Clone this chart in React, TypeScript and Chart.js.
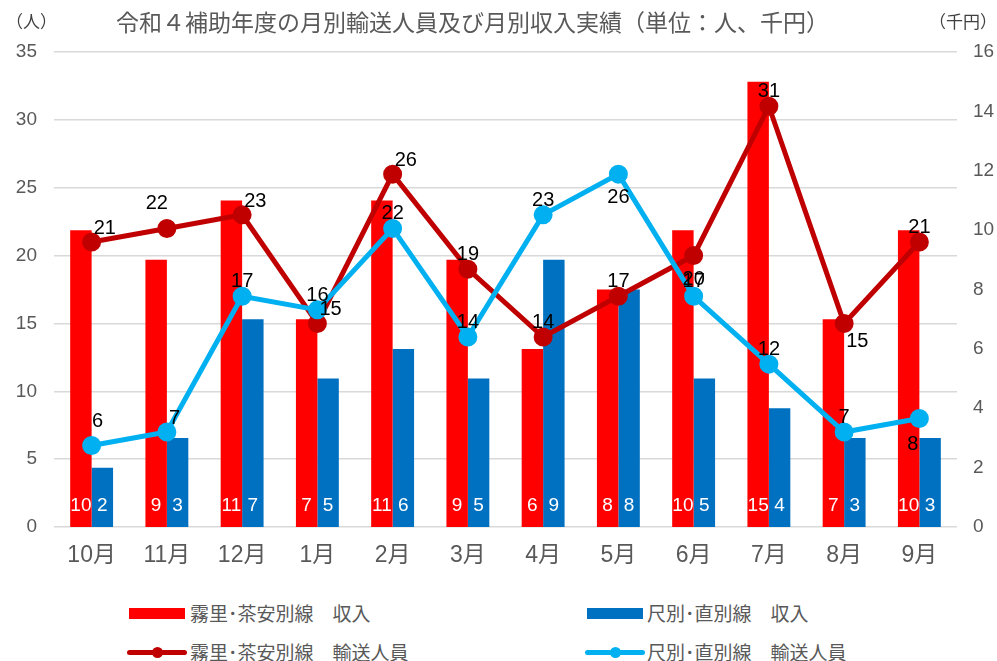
import React, { useEffect, useRef } from "react";
import { Chart, registerables } from "chart.js";

Chart.register(...registerables);

const months = ["10月", "11月", "12月", "1月", "2月", "3月", "4月", "5月", "6月", "7月", "8月", "9月"];
const kiriRevenue = [10, 9, 11, 7, 11, 9, 6, 8, 10, 15, 7, 10];
const shakuRevenue = [2, 3, 7, 5, 6, 5, 9, 8, 5, 4, 3, 3];
const kiriPassengers = [21, 22, 23, 15, 26, 19, 14, 17, 20, 31, 15, 21];
const shakuPassengers = [6, 7, 17, 16, 22, 14, 23, 26, 17, 12, 7, 8];
const kiriLabelPos = ["ar", "al", "ar", "ar", "ar", "a", "a", "a", "b", "a", "br", "a"];
const shakuLabelPos = ["a2", "ar", "a", "a", "a", "a", "a", "b", "a", "a", "a", "bl"];

const seriesNames = ["霧里･茶安別線　収入", "尺別･直別線　収入", "霧里･茶安別線　輸送人員", "尺別･直別線　輸送人員"];

const RED = "#FF0000";
const BLUE = "#0070C0";
const DARKRED = "#C00000";
const LIGHTBLUE = "#00B0F0";
const FONT = "'Liberation Sans', Arial, 'Noto Sans CJK JP', sans-serif";
const JFONT = "'Noto Sans CJK JP', 'Liberation Sans', sans-serif";

const labelPlugin = {
  id: "valueLabels",
  afterDatasetsDraw(chart: any) {
    const ctx = chart.ctx;
    ctx.save();
    chart.data.datasets.forEach((ds: any, i: number) => {
      const meta = chart.getDatasetMeta(i);
      if (ds.type === "bar") {
        ctx.font = `19px ${FONT}`;
        ctx.fillStyle = "#FFFFFF";
        ctx.textAlign = "center";
        ctx.textBaseline = "alphabetic";
        meta.data.forEach((el: any, j: number) => {
          ctx.fillText(String(ds.data[j]), el.x, el.base - 16);
        });
      } else {
        ctx.font = `20px ${FONT}`;
        ctx.fillStyle = "#000000";
        ctx.textBaseline = "alphabetic";
        const pos: string[] = ds.labelPos;
        meta.data.forEach((el: any, j: number) => {
          const p = pos[j];
          let x = el.x, y = el.y;
          if (p === "a") { ctx.textAlign = "center"; y -= 9; }
          else if (p === "a2") { ctx.textAlign = "center"; x += 6; y -= 19; }
          else if (p === "ar") { ctx.textAlign = "left"; x += 2; y -= 8; }
          else if (p === "al") { ctx.textAlign = "right"; x += 1; y -= 19; }
          else if (p === "b") { ctx.textAlign = "center"; y += 29; }
          else if (p === "br") { ctx.textAlign = "left"; x += 2; y += 24; }
          else if (p === "bl") { ctx.textAlign = "right"; x -= 1; y += 32; }
          ctx.fillText(String(ds.data[j]), x, y);
        });
      }
    });
    ctx.restore();
  },
};

export default function App() {
  const ref = useRef<HTMLCanvasElement | null>(null);

  useEffect(() => {
    if (!ref.current) return;
    const chart = new Chart(ref.current, {
      type: "bar",
      data: {
        labels: months,
        datasets: [
          {
            type: "line",
            label: seriesNames[3],
            data: shakuPassengers,
            yAxisID: "y",
            borderColor: LIGHTBLUE,
            backgroundColor: LIGHTBLUE,
            borderWidth: 5,
            pointRadius: 7,
            pointBackgroundColor: LIGHTBLUE,
            pointBorderColor: LIGHTBLUE,
            order: 0,
            labelPos: shakuLabelPos,
          } as any,
          {
            type: "line",
            label: seriesNames[2],
            data: kiriPassengers,
            yAxisID: "y",
            borderColor: DARKRED,
            backgroundColor: DARKRED,
            borderWidth: 5,
            pointRadius: 7,
            pointBackgroundColor: DARKRED,
            pointBorderColor: DARKRED,
            order: 1,
            labelPos: kiriLabelPos,
          } as any,
          {
            type: "bar",
            label: seriesNames[0],
            data: kiriRevenue,
            yAxisID: "y1",
            backgroundColor: RED,
            categoryPercentage: 0.57,
            barPercentage: 1.0,
            order: 2,
          },
          {
            type: "bar",
            label: seriesNames[1],
            data: shakuRevenue,
            yAxisID: "y1",
            backgroundColor: BLUE,
            categoryPercentage: 0.57,
            barPercentage: 1.0,
            order: 3,
          },
        ],
      },
      options: {
        responsive: false,
        maintainAspectRatio: false,
        animation: false,
        layout: { padding: { top: 52, left: 0, right: 0, bottom: 0 } },
        plugins: {
          legend: { display: false },
          title: { display: false },
          tooltip: { enabled: false },
        },
        scales: {
          x: {
            grid: { display: false, drawTicks: false },
            border: { display: false },
            ticks: { color: "#595959", font: { size: 23, family: FONT }, padding: 15 },
            afterFit: (s: any) => { s.height = 63; },
          },
          y: {
            position: "left",
            min: 0,
            max: 35,
            ticks: { stepSize: 5, color: "#595959", font: { size: 19, family: FONT }, padding: 17 },
            grid: { color: "#D9D9D9", lineWidth: 1.5, drawTicks: false },
            border: { display: false },
            afterFit: (s: any) => { s.width = 54; },
          },
          y1: {
            position: "right",
            min: 0,
            max: 16,
            ticks: { stepSize: 2, color: "#595959", font: { size: 19, family: FONT }, padding: 16 },
            grid: { display: false, drawTicks: false },
            border: { display: false },
            afterFit: (s: any) => { s.width = 40; },
          },
        },
      } as any,
      plugins: [labelPlugin],
    });
    return () => chart.destroy();
  }, []);

  const textStyle: React.CSSProperties = {
    position: "absolute",
    fontFamily: JFONT,
    fontSize: 19,
    color: "#595959",
    lineHeight: "22px",
    whiteSpace: "pre",
  };

  const lineSwatch = (left: number, top: number, color: string) => (
    <div style={{ position: "absolute", left, top, width: 60, height: 12 }}>
      <div style={{ position: "absolute", left: 0, top: 3.5, width: 60, height: 5, background: color, borderRadius: 3 }} />
      <div style={{ position: "absolute", left: 24.5, top: 0.5, width: 11, height: 11, background: color, borderRadius: "50%" }} />
    </div>
  );

  return (
    <div style={{ position: "fixed", left: 0, top: 0, width: 997, height: 661, background: "#FFFFFF", overflow: "hidden" }}>
      <canvas ref={ref} width={997} height={590} style={{ position: "absolute", left: 0, top: 0, width: 997, height: 590 }} />
      <div style={{ ...textStyle, left: 116, top: 7, fontSize: 23, lineHeight: "29px" }}>
        令和４補助年度の月別輸送人員及び月別収入実績（単位：人、千円）
      </div>
      <div style={{ ...textStyle, left: 6, top: 10, fontSize: 17, color: "#404040" }}>（人）</div>
      <div style={{ ...textStyle, right: 0, top: 10, fontSize: 17, color: "#404040" }}>（千円）</div>

      <div style={{ position: "absolute", left: 129, top: 608, width: 56, height: 11, background: RED }} />
      <div style={{ ...textStyle, left: 190, top: 602 }}>{seriesNames[0]}</div>
      <div style={{ position: "absolute", left: 587, top: 608, width: 56, height: 11, background: BLUE }} />
      <div style={{ ...textStyle, left: 647, top: 602 }}>{seriesNames[1]}</div>

      {lineSwatch(127, 646, DARKRED)}
      <div style={{ ...textStyle, left: 190, top: 641 }}>{seriesNames[2]}</div>
      {lineSwatch(585, 646, LIGHTBLUE)}
      <div style={{ ...textStyle, left: 647, top: 641 }}>{seriesNames[3]}</div>
    </div>
  );
}
